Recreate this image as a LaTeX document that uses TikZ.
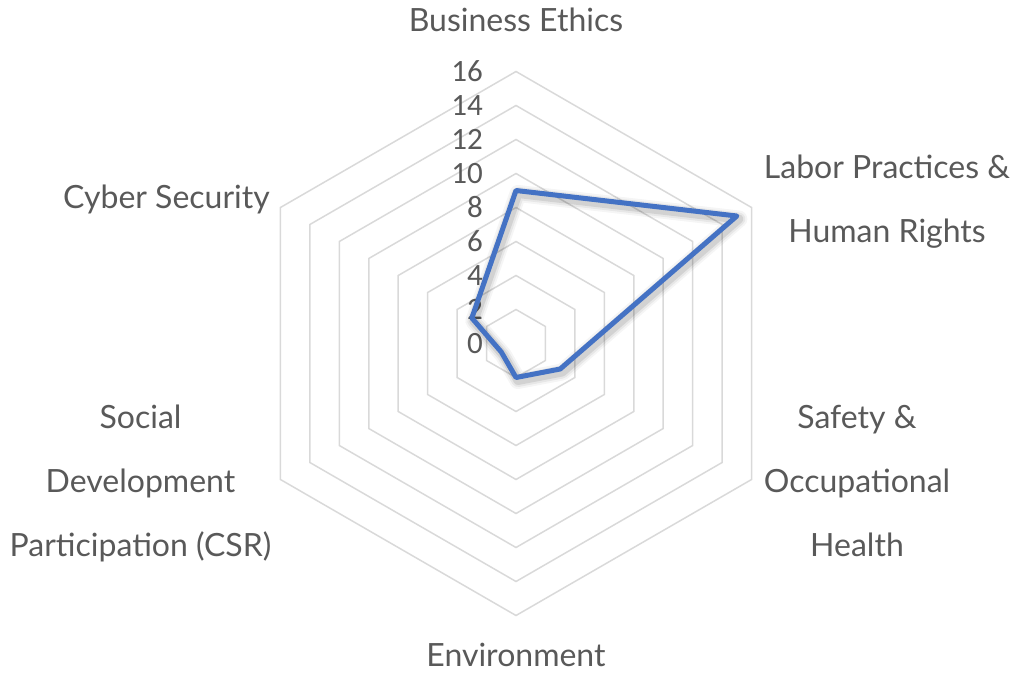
\documentclass[tikz,border=0pt]{standalone}
\usepackage{fontspec}
\setmainfont{Lato}
\newfontfamily\tickfont{Carlito}
\usetikzlibrary{positioning}
\definecolor{gridgrey}{HTML}{D9D9D9}
\definecolor{labelgrey}{HTML}{595959}
\definecolor{lineblue}{HTML}{4472C4}
\tikzset{cat label/.style={text=labelgrey,align=center,inner sep=0pt,font=\fontsize{32}{64}\selectfont},
  tick label/.style={text=labelgrey,anchor=east,inner sep=0pt,font=\tickfont\fontsize{31}{31}\selectfont},
  ring/.style={draw=gridgrey,line width=1.5pt},
  score line/.style={draw=lineblue,line width=5pt,line join=round},
  score shadow/.style={draw=black,line join=round,transform canvas={shift={(2,-3)}}} }

\begin{document}
\begin{tikzpicture}[x=1pt,y=1pt]
\useasboundingbox (-516,-328.5) rectangle (500,343.5);
\def\u{17}

  % grid
  \foreach \r in {2,4,...,16}
    \draw[ring] (90:{\r*\u}) -- (30:{\r*\u}) -- (-30:{\r*\u}) -- (-90:{\r*\u}) -- (-150:{\r*\u}) -- (150:{\r*\u}) -- cycle;

  % axis values
  \foreach \v in {0,2,...,16}
    \node[tick label] (t\v) at (-33,{\v*\u}) {\v};

  % categories
  \node[cat label] (ethics) at (0,323.5) {Business Ethics};
  \node[cat label] (labor) at (371,142) {Labor Practices \&\\Human Rights};
  \node[cat label] (safety) at (341,-137.5) {Safety \&\\Occupational\\Health};
  \node[cat label] (environment) at (0,-311.5) {Environment};
  \node[cat label] (social) at (-375.5,-140) {Social\\Development\\Participation (CSR)};
  \node[cat label] (cyber) at (-349.5,144.5) {Cyber Security};

  % scores
  \coordinate (be) at (90:{9*\u});
  \coordinate (lp) at (30:{15*\u});
  \coordinate (so) at (-30:{3*\u});
  \coordinate (en) at (-90:{2*\u});
  \coordinate (sd) at (-150:{1*\u});
  \coordinate (cs) at (150:{3*\u});

  \draw[score shadow,line width=17pt,opacity=0.04] (be) -- (lp) -- (so) -- (en) -- (sd) -- (cs) -- cycle;
  \draw[score shadow,line width=13pt,opacity=0.06] (be) -- (lp) -- (so) -- (en) -- (sd) -- (cs) -- cycle;
  \draw[score shadow,line width=9pt,opacity=0.09] (be) -- (lp) -- (so) -- (en) -- (sd) -- (cs) -- cycle;
  \draw[score line] (be) -- (lp) -- (so) -- (en) -- (sd) -- (cs) -- cycle;
\end{tikzpicture}
\end{document}
